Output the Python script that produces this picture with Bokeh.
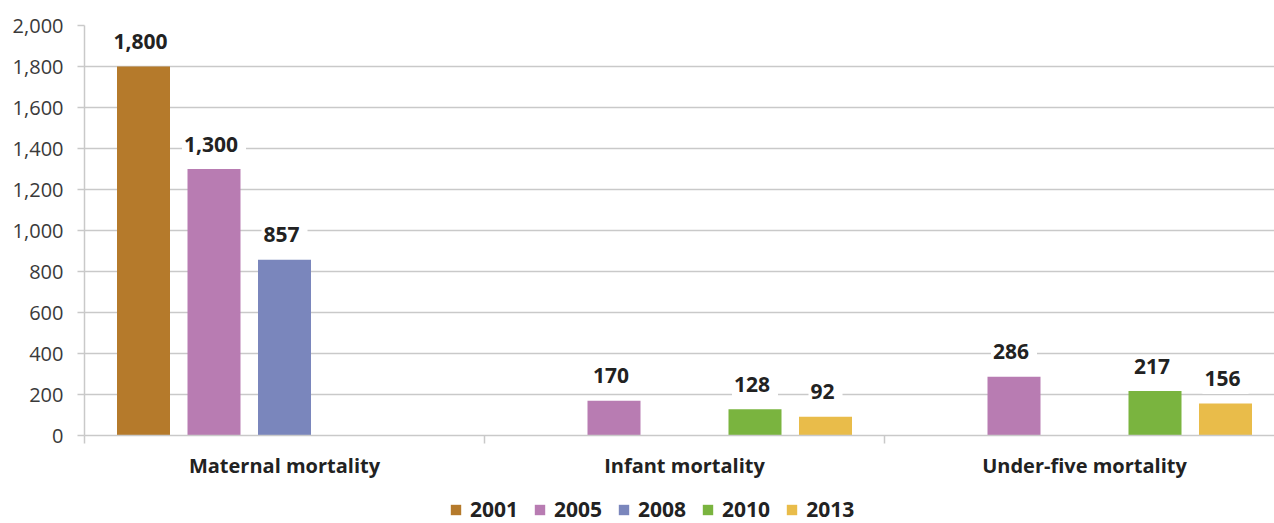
from bokeh.plotting import figure
from bokeh.layouts import column
from bokeh.models import (ColumnDataSource, Range1d, FixedTicker, NumeralTickFormatter,
                          Legend, LegendItem)
from bokeh.core.properties import value
from bokeh.transform import dodge
from bokeh.embed import file_html
from bokeh.resources import INLINE

# Mortality indicators by survey year
categories = ["Maternal mortality", "Infant mortality", "Under-five mortality"]
years = ["2001", "2005", "2008", "2010", "2013"]
values_2001 = [1800, None, None]
values_2005 = [1300, 170, 286]
values_2008 = [857, None, None]
values_2010 = [None, 128, 217]
values_2013 = [None, 92, 156]
series = [values_2001, values_2005, values_2008, values_2010, values_2013]
colors = ["#B57A2B", "#B87CB2", "#7A86BC", "#7AB43F", "#E9BC4A"]
y_ticks = [0, 200, 400, 600, 800, 1000, 1200, 1400, 1600, 1800, 2000]

FONT = "Open Sans"
GRID = "#c9c9c9"
INK = "#222222"

p = figure(frame_width=1190, frame_height=410, output_backend="svg", toolbar_location=None,
           x_range=Range1d(0, 2.975), y_range=Range1d(0, 2000),
           min_border_left=84, min_border_right=0, min_border_top=25, min_border_bottom=48)
p.outline_line_color = None
p.background_fill_color = "white"
p.border_fill_color = "white"

centers = [i + 0.5 for i in range(len(categories))]
step = 0.17625
bar_w = 0.1325

for k, (yr, vals, col) in enumerate(zip(years, series, colors)):
    xs, ys, txt = [], [], []
    for c, v in zip(centers, vals):
        if v is not None:
            xs.append(c)
            ys.append(v)
            txt.append(f"{v:,}")
    src = ColumnDataSource(dict(x=xs, y=ys, label=txt))
    off = (k - 2) * step
    p.vbar(x=dodge("x", off), top="y", width=bar_w, bottom=0, source=src,
           fill_color=col, line_color=None)
    p.text(x=dodge("x", off), y="y", text="label", source=src,
           text_align="center", text_baseline="middle", y_offset=-22,
           text_font=value(FONT), text_font_style="bold", text_font_size="21px",
           text_color=INK, background_fill_color="white",
           padding=[2, 8, 2, 8])

# y axis
p.yaxis.ticker = FixedTicker(ticks=y_ticks, minor_ticks=[])
p.yaxis.formatter = NumeralTickFormatter(format="0,0")
p.yaxis.axis_line_color = GRID
p.yaxis.axis_line_width = 1.5
p.yaxis.major_tick_line_color = GRID
p.yaxis.major_tick_line_width = 1.5
p.yaxis.major_tick_out = 7
p.yaxis.major_tick_in = 0
p.yaxis.major_label_standoff = 14
p.yaxis.major_label_text_font = FONT
p.yaxis.major_label_text_font_size = "20px"
p.yaxis.major_label_text_color = "#3a3a3a"

# x axis: category names centred, boundary marks as minor ticks
p.xaxis.ticker = FixedTicker(ticks=centers, minor_ticks=[0, 1, 2, 3])
p.xaxis.major_label_overrides = {c: name for c, name in zip(centers, categories)}
p.xaxis.axis_line_color = GRID
p.xaxis.axis_line_width = 1.5
p.xaxis.major_tick_out = 0
p.xaxis.major_tick_in = 0
p.xaxis.minor_tick_out = 8
p.xaxis.minor_tick_in = 0
p.xaxis.minor_tick_line_color = GRID
p.xaxis.minor_tick_line_width = 1.5
p.xaxis.major_label_standoff = 8
p.xaxis.major_label_text_font = FONT
p.xaxis.major_label_text_font_style = "bold"
p.xaxis.major_label_text_font_size = "20px"
p.xaxis.major_label_text_color = INK

p.xgrid.grid_line_color = None
p.ygrid.ticker = FixedTicker(ticks=y_ticks[1:])
p.ygrid.grid_line_color = GRID
p.ygrid.grid_line_width = 1.5

# legend strip beneath the chart (swatch renderers sit outside the visible range)
lg = figure(width=1274, height=40, output_backend="svg", toolbar_location=None,
            x_range=Range1d(0, 1), y_range=Range1d(0, 1),
            x_axis_type=None, y_axis_type=None, min_border=0)
lg.outline_line_color = None
lg.xgrid.visible = False
lg.ygrid.visible = False
items = []
for yr, col in zip(years, colors):
    r = lg.vbar(x=[-5], top=[-5], bottom=[-6], width=0.1, fill_color=col, line_color=None)
    items.append(LegendItem(label=yr, renderers=[r]))
legend = Legend(items=items, orientation="horizontal", location=(365, 0),
                border_line_color=None, background_fill_alpha=0,
                label_text_font=FONT, label_text_font_style="bold",
                label_text_font_size="21px", label_text_color=INK,
                label_text_line_height=1.0,
                glyph_width=13, glyph_height=13, label_standoff=8, spacing=15,
                padding=0, margin=0)
lg.add_layout(legend, "center")

open("out.html", "w").write(file_html(column(p, lg), INLINE))
